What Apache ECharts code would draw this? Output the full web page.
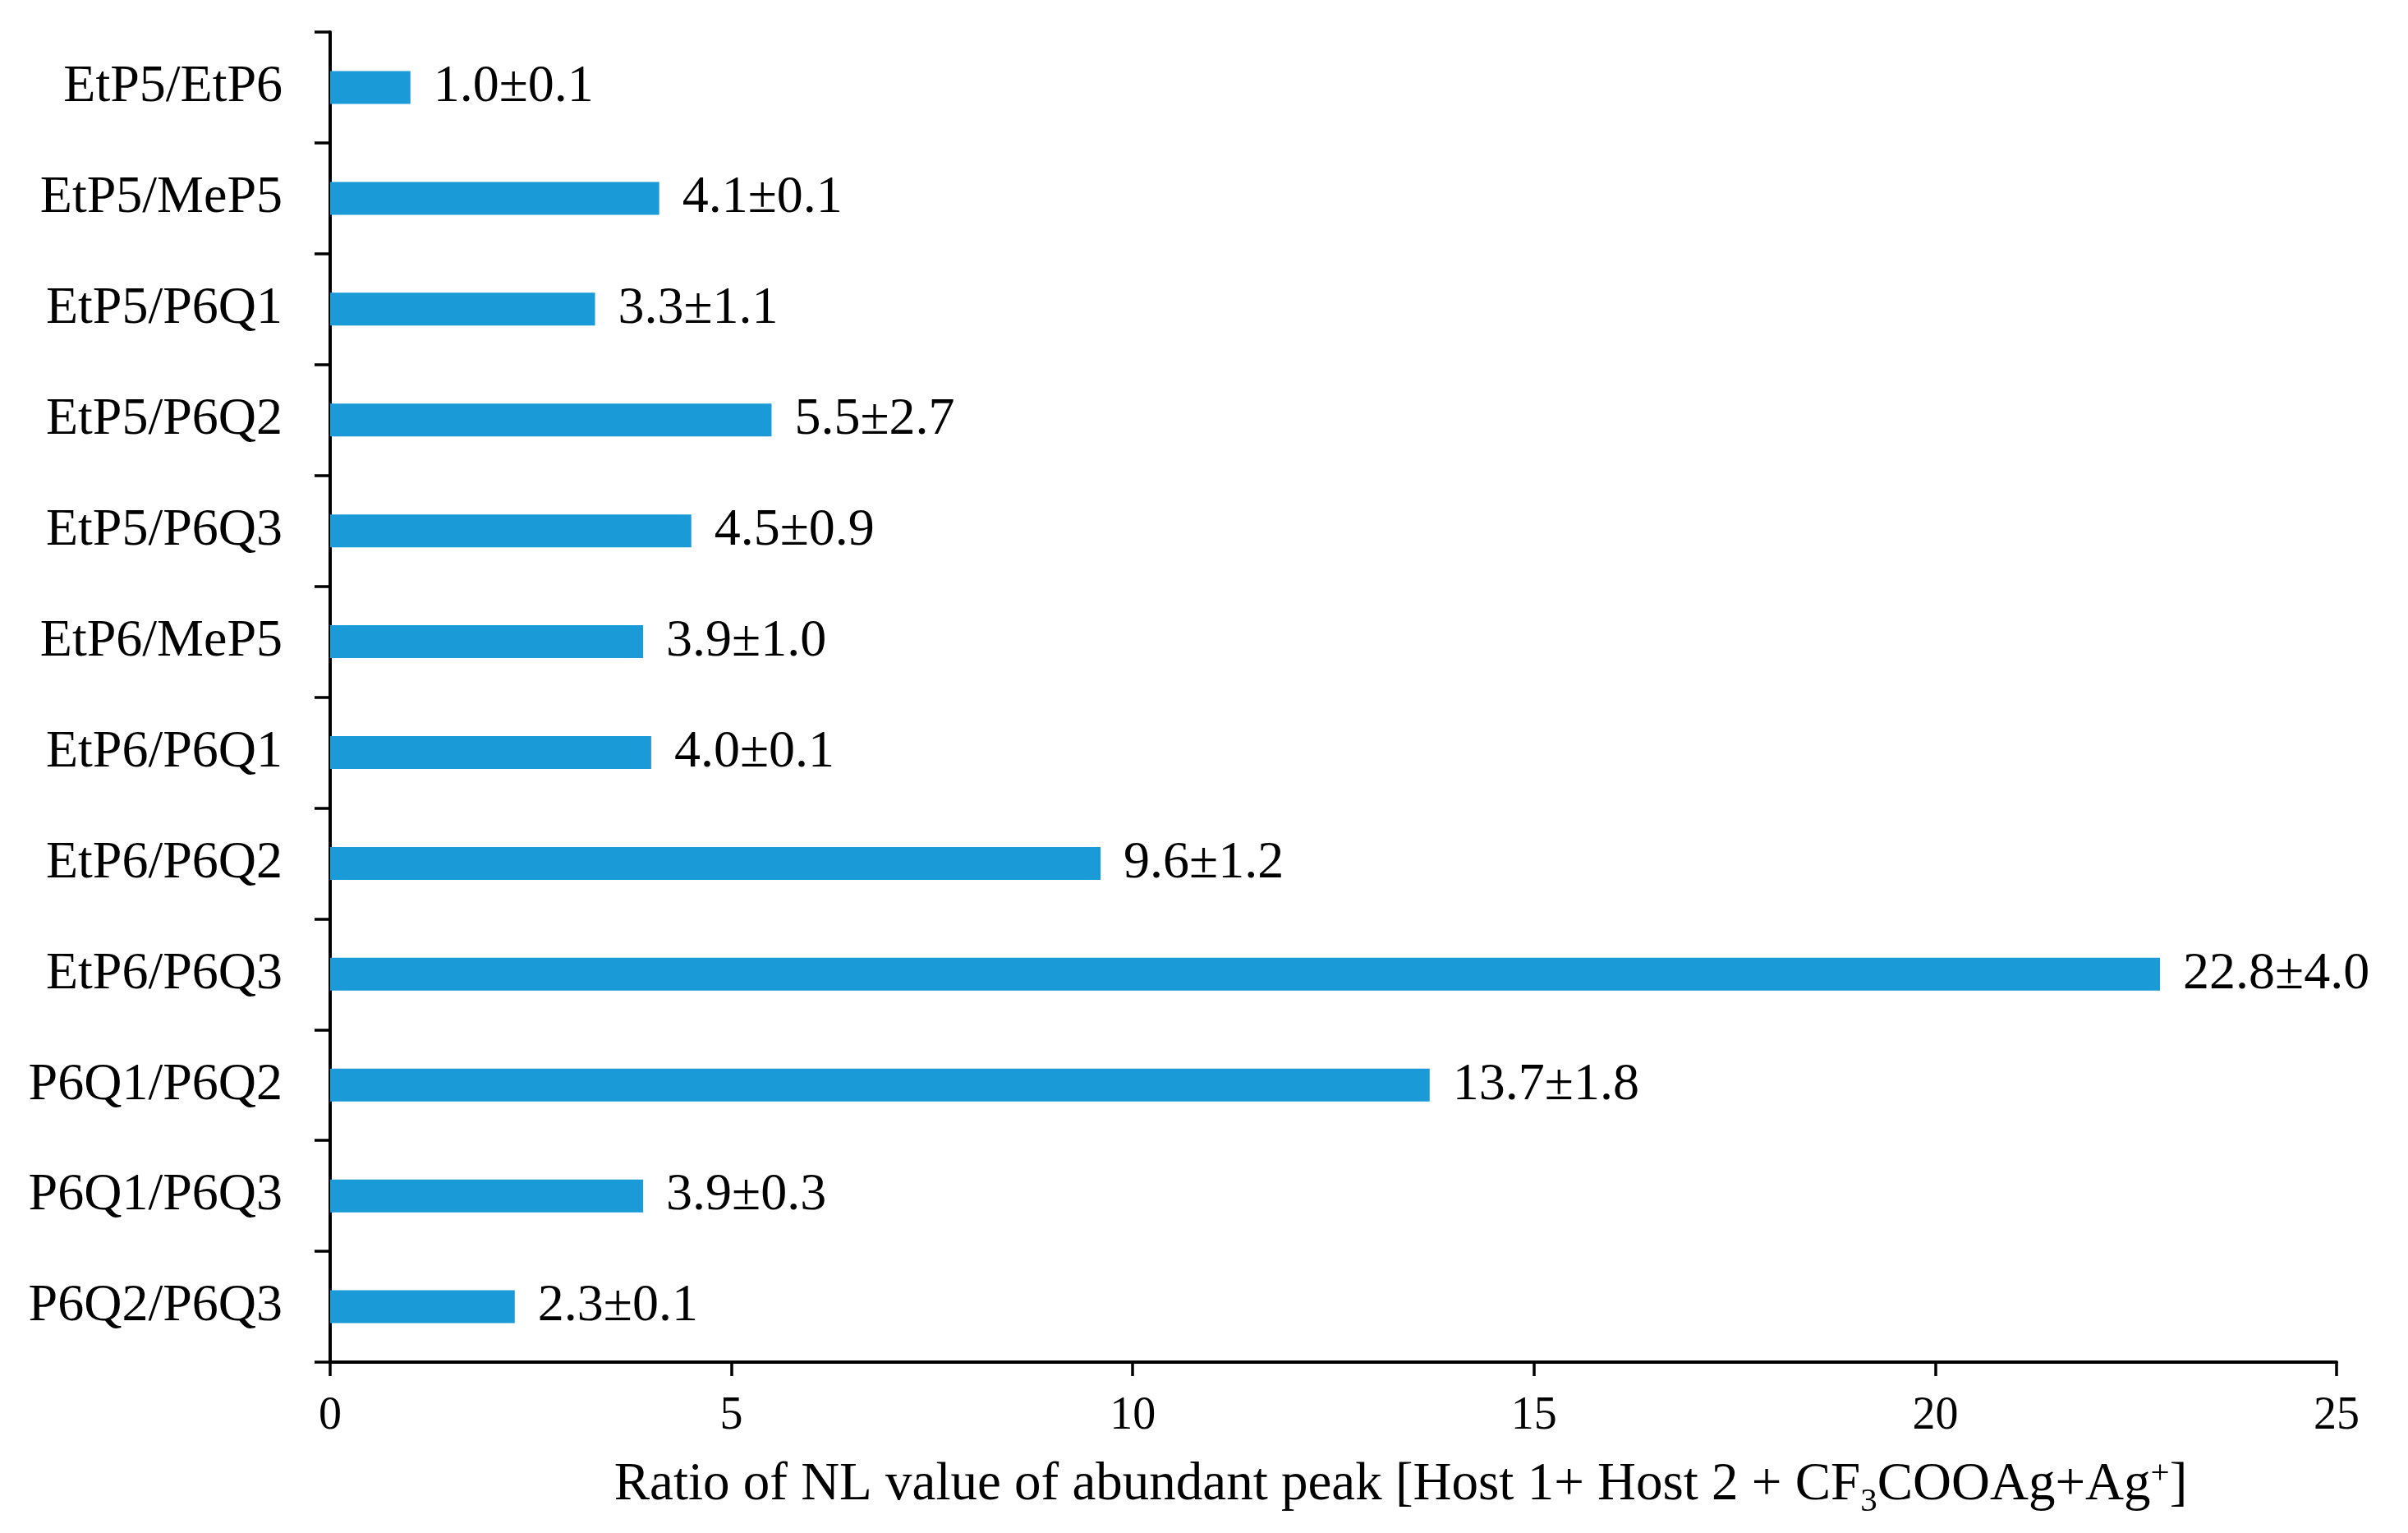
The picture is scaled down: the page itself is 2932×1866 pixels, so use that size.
<!DOCTYPE html>
<html>
<head>
<meta charset="utf-8">
<script src="https://cdn.jsdelivr.net/npm/echarts@6/dist/echarts.min.js"></script>
<style>html,body{margin:0;padding:0;background:#fff;}#c{width:2932px;height:1866px;}</style>
</head>
<body>
<div id="c"></div>
<script>
const categories = ['EtP5/EtP6','EtP5/MeP5','EtP5/P6Q1','EtP5/P6Q2','EtP5/P6Q3','EtP6/MeP5','EtP6/P6Q1','EtP6/P6Q2','EtP6/P6Q3','P6Q1/P6Q2','P6Q1/P6Q3','P6Q2/P6Q3'];
const ratios = [1.0, 4.1, 3.3, 5.5, 4.5, 3.9, 4.0, 9.6, 22.8, 13.7, 3.9, 2.3];
const errors = [0.1, 0.1, 1.1, 2.7, 0.9, 1.0, 0.1, 1.2, 4.0, 1.8, 0.3, 0.1];
const xTicks = [0, 5, 10, 15, 20, 25];

const FONT = "'Liberation Serif', 'Times New Roman', serif";
const chart = echarts.init(document.getElementById('c'));
chart.setOption({
  backgroundColor: '#ffffff',
  animation: false,
  textStyle: { fontFamily: FONT, color: '#000' },
  grid: { left: 402, right: 87, top: 39, bottom: 208, containLabel: false },
  xAxis: {
    type: 'value',
    min: xTicks[0], max: xTicks[xTicks.length - 1], interval: xTicks[1] - xTicks[0],
    axisLine: { show: true, lineStyle: { color: '#000', width: 4 } },
    axisTick: { show: true, length: 17, lineStyle: { color: '#000', width: 3.5 } },
    splitLine: { show: false },
    axisLabel: { fontFamily: FONT, fontSize: 56, color: '#000', margin: 38 },
    name: 'Ratio of NL value of abundant peak [Host 1+ Host 2 + CF{sub|3}COOAg+Ag{sup|+}]',
    nameLocation: 'middle',
    nameGap: 108,
    nameTextStyle: {
      fontFamily: FONT, fontSize: 65, color: '#000', padding: [0, 0, 0, 164],
      verticalAlign: 'top',
      rich: {
        sub: { fontFamily: FONT, fontSize: 41, color: '#000', padding: [42, 0, 0, 0] },
        sup: { fontFamily: FONT, fontSize: 41, color: '#000', padding: [0, 0, 26, 0] }
      }
    }
  },
  yAxis: {
    type: 'category',
    data: categories,
    inverse: true,
    axisLine: { show: true, lineStyle: { color: '#000', width: 4 } },
    axisTick: { show: true, length: 19, lineStyle: { color: '#000', width: 3.5 } },
    axisLabel: { fontFamily: FONT, fontSize: 64, color: '#000', margin: 58 },
    splitLine: { show: false }
  },
  series: [{
    type: 'bar',
    data: ratios,
    barWidth: 40,
    itemStyle: { color: '#1A9BD7' },
    label: {
      show: true, position: 'right', distance: 28,
      fontFamily: FONT, fontSize: 64, color: '#000',
      formatter: p => ratios[p.dataIndex].toFixed(1) + '\u00B1' + errors[p.dataIndex].toFixed(1)
    }
  }]
});
</script>
</body>
</html>
